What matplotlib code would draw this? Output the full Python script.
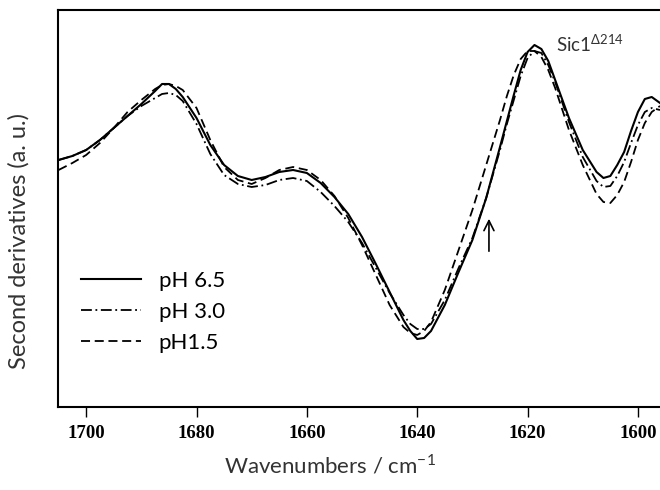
import matplotlib
matplotlib.use("Agg")
import matplotlib.pyplot as plt

# wavenumber grid (cm-1) and second-derivative curves (a. u.)
wavenumber = [1705, 1702.5, 1700, 1697.5, 1695, 1692.5, 1690, 1687.5, 1686.25, 1685,
              1683.75, 1682.5, 1680, 1677.5, 1675, 1672.5, 1670, 1667.5, 1665, 1662.5,
              1660, 1657.5, 1655, 1652.5, 1650, 1647.5, 1645, 1642.5, 1641.25, 1640,
              1638.75, 1637.5, 1635, 1632.5, 1630, 1627.5, 1625, 1623.75, 1622.5, 1621.25,
              1620, 1618.75, 1617.5, 1616.25, 1615, 1612.5, 1610, 1607.5, 1606.25, 1605,
              1603.75, 1602.5, 1601.25, 1600, 1598.75, 1597.5, 1596]
ph65 = [247, 251, 257, 267, 279, 291, 303, 316, 323, 323,
        318, 310, 289, 262, 242, 231, 227, 230, 235, 237,
        234, 224, 210, 193, 170, 143, 115, 87, 76, 68,
        69, 76, 102, 135, 167, 209, 260, 286, 312, 337,
        355, 362, 358, 346, 327, 289, 257, 235, 229, 231,
        242, 255, 276, 295, 308, 310, 304]
ph30 = [247, 251, 257, 267, 279, 291, 301, 309, 313, 314,
        312, 306, 283, 253, 232, 223, 220, 222, 227, 229,
        226, 215, 201, 185, 164, 139, 114, 92, 83, 78,
        78, 83, 107, 139, 169, 209, 257, 283, 307, 331,
        349, 356, 354, 342, 325, 285, 250, 226, 220, 221,
        231, 245, 264, 282, 295, 299, 297]
ph15 = [237, 244, 252, 264, 279, 295, 307, 318, 322, 323,
        321, 317, 299, 267, 240, 227, 223, 229, 237, 240,
        237, 227, 211, 189, 162, 132, 102, 80, 74, 72,
        76, 85, 117, 157, 197, 242, 287, 311, 332, 348,
        356, 356, 350, 337, 319, 277, 242, 213, 205, 204,
        212, 225, 245, 267, 284, 295, 301]
labels = ["pH 6.5", "pH 3.0", "pH1.5"]
xticks = [1700, 1680, 1660, 1640, 1620, 1600]

plt.rcParams['font.family'] = ['Lato', 'DejaVu Sans']

fig = plt.figure(figsize=(6.6, 4.9), dpi=100)
ax = fig.add_axes([0.0879, 0.1694, 0.9121, 0.8102])

ax.plot(wavenumber, ph65, color='black', lw=1.5, label=labels[0])
ax.plot(wavenumber, ph30, color='black', lw=1.3, dashes=(6, 2, 1, 2), label=labels[1])
ax.plot(wavenumber, ph15, color='black', lw=1.3, dashes=(5, 2.6), label=labels[2])

ax.set_xlim(1705.1, 1596)
ax.set_ylim(0, 397)

# arrow marking the shoulder
ax.annotate('', xy=(1627, 191), xytext=(1627, 153),
            arrowprops=dict(arrowstyle='->', color='black', lw=1.2, mutation_scale=18))
ax.text(1614.8, 363, 'Sic1$^{\\mathregular{\u0394214}}$', fontsize=13.5, va='center', ha='left',
        color='#333333')

ax.set_xticks(xticks)
ax.set_xticklabels([str(t) for t in xticks], fontfamily='Liberation Serif',
                   fontweight='bold', fontsize=13.5)
ax.set_yticks([])
ax.tick_params(axis='x', direction='out', length=7, width=1, pad=6)

for side in ['left', 'top', 'bottom']:
    ax.spines[side].set_linewidth(1.5)
ax.spines['right'].set_visible(False)

ax.set_xlabel('Wavenumbers / cm$^{\\mathregular{-1}}$', fontsize=16, color='#333333')
ax.xaxis.set_label_coords(0.452, -0.115)
ax.set_ylabel('Second derivatives (a. u.)', fontsize=17, color='#333333')
ax.yaxis.set_label_coords(-0.048, 0.418)

ax.legend(loc='lower left', bbox_to_anchor=(0.005, 0.085), frameon=False, fontsize=16,
          handlelength=2.7, labelspacing=0.5, handletextpad=0.8)

fig.savefig('out.png', dpi=100)
